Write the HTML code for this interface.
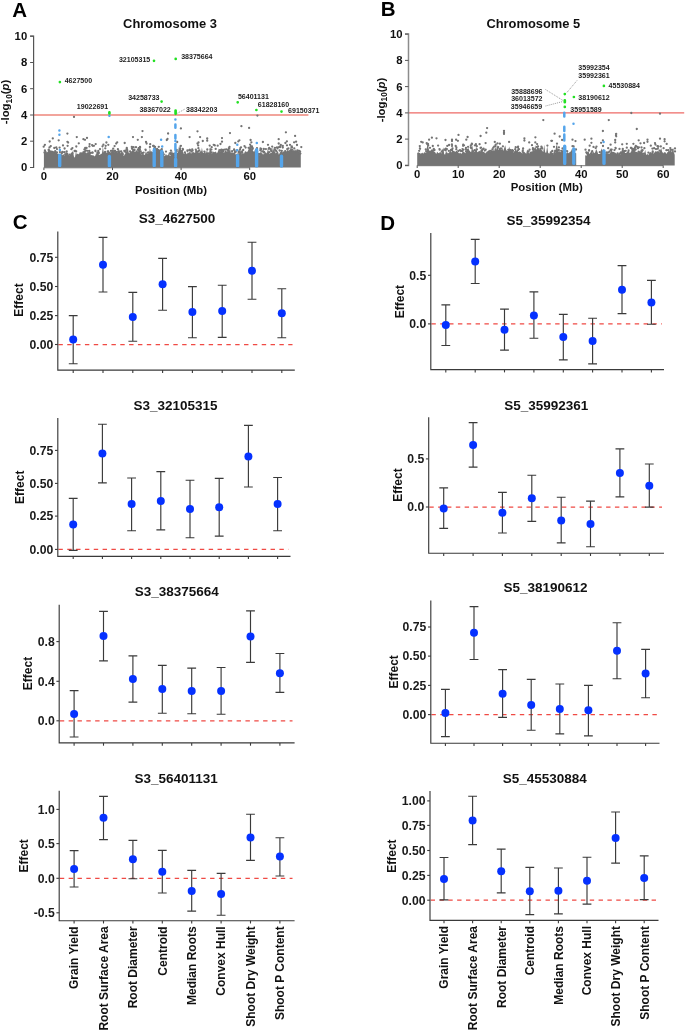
<!DOCTYPE html>
<html><head><meta charset="utf-8"><style>
html,body{margin:0;padding:0;background:#fff;}
svg{display:block;} text{-webkit-font-smoothing:antialiased;} svg{will-change:transform;}
</style></head><body>
<svg width="685" height="1031" viewBox="0 0 685 1031">
<rect width="685" height="1031" fill="#fff"/>
<text x="12.2" y="16.8" font-size="20.5" font-family="Liberation Sans, sans-serif" font-weight="bold" fill="#000">A</text>
<text x="380.8" y="15.5" font-size="20.5" font-family="Liberation Sans, sans-serif" font-weight="bold" fill="#000">B</text>
<text x="12.8" y="228.8" font-size="20.5" font-family="Liberation Sans, sans-serif" font-weight="bold" fill="#000">C</text>
<text x="380.3" y="229.6" font-size="20.5" font-family="Liberation Sans, sans-serif" font-weight="bold" fill="#000">D</text>
<line x1="33.6" y1="115" x2="308.4" y2="115" stroke="#f2a49c" stroke-width="2.0"/>
<path d="M43.9 167.5L43.9 152.2L44.9 152.5L45.9 150.7L46.9 152.6L47.9 151.5L48.9 150L49.9 149.7L50.9 150.7L51.9 150.5L52.9 150.9L53.9 151.2L54.9 151.7L55.9 154L56.9 153.9L57.9 153.3L58.9 154.3L59.9 156.8L60.9 157.5L61.9 155.6L62.9 154.7L63.9 154.3L64.9 155.8L65.9 150.7L66.9 152.9L67.9 152.5L68.9 155.2L69.9 155.3L70.9 154.2L71.9 154.2L72.9 150.3L73.9 156.6L74.9 157.8L75.9 151.5L76.9 155.1L77.9 155.2L78.9 154.2L79.9 151.9L80.9 152.5L81.9 152.2L82.9 153.1L83.9 150.7L84.9 151.9L85.9 152.7L86.9 153.4L87.9 154.3L88.9 151L89.9 154.1L90.9 155.2L91.9 154.9L92.9 156.6L93.9 155.7L94.9 156.6L95.9 154L96.9 154.3L97.9 153.3L98.9 154.7L99.9 155.1L100.9 153.8L101.9 153.8L102.9 146.7L103.9 153.5L104.9 153.5L105.9 152.2L106.9 153L107.9 151.4L108.9 151.5L109.9 152L110.9 152.5L111.9 151L112.9 150.3L113.9 152.4L114.9 152.4L115.9 150.3L116.9 152.4L117.9 152.3L118.9 149.1L119.9 151.6L120.9 153.6L121.9 149.8L122.9 154.5L123.9 155.9L124.9 154.1L125.9 152.5L126.9 149.4L127.9 147.7L128.9 154.2L129.9 152.2L130.9 151.8L131.9 150.9L132.9 150.7L133.9 150.6L134.9 152L135.9 151.1L136.9 149.9L137.9 151.5L138.9 150.5L139.9 150.4L140.9 153.7L141.9 154.6L142.9 153.6L143.9 154.6L144.9 155.1L145.9 151.1L146.9 153.6L147.9 153.2L148.9 154.1L149.9 147.7L150.9 153.1L151.9 152.3L152.9 151.8L153.9 150.6L154.9 147.6L155.9 148.2L156.9 151.4L157.9 153.1L158.9 151.2L159.9 151.3L160.9 153.5L161.9 153.9L162.9 153.4L163.9 155L164.9 156.2L165.9 153.8L166.9 155.6L167.9 155L168.9 153.8L169.9 155.9L170.9 155.3L171.9 149.5L172.9 154.4L173.9 154.5L174.9 155.1L175.9 155.3L176.9 153L177.9 153L178.9 146.5L179.9 148.7L180.9 149.1L181.9 151L182.9 151.4L183.9 154.1L184.9 153.1L185.9 153.1L186.9 154.2L187.9 152.1L188.9 153.2L189.9 150.5L190.9 153.6L191.9 153.1L192.9 151.4L193.9 152.4L194.9 152.8L195.9 151.5L196.9 153.4L197.9 151.8L198.9 153L199.9 152.3L200.9 154.1L201.9 147.6L202.9 153.1L203.9 153.1L204.9 150.8L205.9 153.4L206.9 150.3L207.9 153.1L208.9 154.4L209.9 147.6L210.9 150.1L211.9 154L212.9 151.2L213.9 152.2L214.9 152L215.9 151.5L216.9 153.5L217.9 151.6L218.9 148.4L219.9 151.2L220.9 152L221.9 151.5L222.9 152L223.9 153L224.9 151.6L225.9 149.7L226.9 152.1L227.9 150.2L228.9 152.3L229.9 147.2L230.9 153.1L231.9 151.9L232.9 152.8L233.9 152.8L234.9 152.8L235.9 154.8L236.9 153.9L237.9 155.4L238.9 153.6L239.9 153.1L240.9 148.5L241.9 154.4L242.9 152L243.9 154L244.9 151.6L245.9 151.2L246.9 152.3L247.9 151L248.9 148.3L249.9 145.6L250.9 147.8L251.9 149.3L252.9 150.5L253.9 152.6L254.9 149.9L255.9 151.7L256.9 151.8L257.9 152.5L258.9 155L259.9 155.5L260.9 149.5L261.9 154.6L262.9 154.6L263.9 153.9L264.9 152.5L265.9 152.2L266.9 153.6L267.9 148.2L268.9 152.9L269.9 153.7L270.9 152.3L271.9 152.9L272.9 147.1L273.9 150.6L274.9 151.5L275.9 153.6L276.9 151.8L277.9 151.2L278.9 154.8L279.9 152.6L280.9 151.3L281.9 151L282.9 152.4L283.9 150.8L284.9 152L285.9 152.1L286.9 150.4L287.9 150L288.9 152.3L289.9 151.3L290.9 145L291.9 150.9L292.9 150.7L293.9 149.7L294.9 152.1L295.9 149L296.9 150.9L297.9 150.6L298.9 151.4L299.9 154L300.8 153.4L300.8 167.5Z" fill="#747474"/>
<path d="M43.7 146.7h0M45.2 151.7h0M44.5 152.5h0M44.9 150.3h0M48.6 149.9h0M48.8 150.0h0M49.5 147.4h0M50.8 146.1h0M54.3 148.0h0M55.2 151.2h0M55.6 153.1h0M56.0 154.0h0M56.3 147.4h0M57.0 149.1h0M56.9 152.4h0M59.9 155.6h0M59.9 152.1h0M59.6 147.6h0M61.3 155.9h0M61.9 153.1h0M61.7 153.6h0M62.3 152.0h0M64.3 152.2h0M64.6 148.5h0M65.2 154.4h0M66.7 151.5h0M69.6 154.6h0M71.4 149.2h0M72.4 153.2h0M71.7 154.0h0M72.4 148.1h0M74.6 151.0h0M76.2 151.3h0M75.6 150.9h0M76.3 146.5h0M77.8 154.9h0M83.3 152.5h0M84.4 149.4h0M84.7 151.8h0M85.2 147.9h0M85.8 150.5h0M87.3 150.8h0M86.6 147.9h0M87.6 153.5h0M88.4 154.2h0M89.3 151.0h0M89.4 146.4h0M89.9 153.8h0M89.5 152.4h0M90.8 153.1h0M92.4 152.3h0M92.7 145.8h0M92.9 156.3h0M92.7 152.8h0M93.9 145.8h0M95.4 150.6h0M95.5 151.2h0M97.3 154.1h0M97.4 152.9h0M98.3 151.0h0M98.7 153.4h0M98.8 152.6h0M100.0 149.1h0M102.5 146.3h0M103.9 153.4h0M105.3 148.3h0M105.1 151.8h0M105.3 153.1h0M105.7 145.8h0M107.8 151.4h0M108.2 151.4h0M111.0 150.9h0M112.4 150.7h0M113.2 148.6h0M113.9 152.3h0M115.0 150.8h0M114.6 146.1h0M114.5 150.9h0M116.6 152.1h0M118.4 151.4h0M117.9 149.2h0M121.0 151.4h0M122.8 154.3h0M122.6 153.4h0M124.3 150.9h0M125.4 151.9h0M125.8 150.5h0M126.8 147.9h0M126.7 148.8h0M128.6 153.9h0M130.1 151.4h0M131.8 146.9h0M132.0 148.7h0M133.2 150.5h0M134.3 149.7h0M133.6 147.2h0M134.6 150.1h0M136.0 147.2h0M138.3 149.3h0M137.9 149.8h0M139.2 150.2h0M138.7 148.2h0M139.4 149.4h0M140.1 147.2h0M139.9 149.2h0M139.6 148.0h0M140.0 147.0h0M140.7 151.4h0M141.6 153.1h0M142.5 153.3h0M143.6 152.6h0M145.5 149.6h0M145.7 150.1h0M148.4 152.3h0M148.0 152.6h0M149.4 153.4h0M150.2 144.2h0M149.9 147.0h0M151.1 152.5h0M153.1 145.9h0M153.7 145.9h0M154.0 148.3h0M155.0 147.0h0M156.4 150.0h0M157.1 149.0h0M156.6 150.7h0M157.9 152.6h0M158.0 149.9h0M157.5 152.6h0M158.5 151.2h0M158.8 146.8h0M160.1 150.4h0M159.7 151.3h0M160.9 153.4h0M161.8 149.2h0M161.8 149.1h0M162.9 152.7h0M163.8 154.3h0M166.0 151.6h0M169.7 153.5h0M170.8 153.2h0M170.5 154.2h0M170.9 150.7h0M173.4 154.0h0M172.8 153.9h0M175.3 154.3h0M175.4 153.4h0M176.7 149.8h0M176.7 151.2h0M176.5 152.0h0M180.1 148.5h0M180.5 146.2h0M180.9 145.8h0M182.1 150.8h0M182.8 149.0h0M183.0 149.6h0M184.9 152.3h0M187.4 150.3h0M187.5 150.9h0M189.5 149.9h0M189.9 149.9h0M191.4 151.5h0M192.2 149.3h0M192.6 150.5h0M196.2 151.2h0M195.8 149.6h0M196.8 152.8h0M198.2 145.4h0M198.4 148.2h0M198.2 151.4h0M199.3 150.4h0M201.2 153.4h0M200.7 152.5h0M201.3 152.4h0M204.4 151.7h0M207.3 149.5h0M208.6 153.4h0M209.7 145.6h0M210.6 149.3h0M211.4 149.6h0M211.5 152.4h0M211.7 147.2h0M213.7 144.8h0M214.8 145.4h0M215.7 148.9h0M217.7 145.7h0M219.9 150.1h0M220.9 151.0h0M221.5 149.6h0M222.2 151.0h0M223.2 149.9h0M223.4 151.6h0M224.9 149.6h0M226.3 149.3h0M227.9 150.0h0M228.5 150.9h0M228.9 148.2h0M229.2 148.4h0M229.5 146.9h0M232.1 151.2h0M234.1 149.3h0M234.2 150.0h0M234.9 152.2h0M235.5 152.2h0M236.5 150.7h0M237.2 150.1h0M237.6 154.6h0M239.1 151.5h0M238.7 152.5h0M240.3 152.9h0M240.0 149.3h0M240.5 147.8h0M241.0 147.3h0M242.1 152.6h0M242.0 151.7h0M243.2 150.0h0M244.5 146.1h0M245.6 147.6h0M248.6 147.8h0M250.1 144.6h0M250.9 146.2h0M251.2 147.7h0M252.0 146.4h0M252.5 149.3h0M252.8 148.2h0M253.4 152.6h0M257.0 148.2h0M257.2 151.6h0M258.6 154.0h0M260.1 153.9h0M260.3 155.4h0M260.3 150.2h0M260.5 148.5h0M261.2 149.0h0M261.1 149.2h0M262.2 151.3h0M261.7 154.5h0M263.3 151.4h0M264.1 151.8h0M263.8 149.0h0M264.0 152.6h0M265.9 149.1h0M269.2 147.8h0M268.8 148.8h0M269.1 152.2h0M271.3 151.2h0M270.8 149.1h0M270.8 149.9h0M272.2 146.6h0M274.9 147.8h0M275.0 150.1h0M275.0 149.7h0M276.3 151.2h0M276.0 150.6h0M277.0 147.3h0M277.5 148.4h0M279.2 147.0h0M279.6 150.5h0M280.2 147.0h0M280.4 146.3h0M281.8 150.8h0M282.8 147.5h0M282.8 145.8h0M285.2 151.2h0M287.2 149.1h0M287.0 145.3h0M288.4 148.5h0M288.6 151.7h0M290.2 150.8h0M291.8 146.5h0M291.4 150.2h0M292.0 147.4h0M292.2 149.9h0M294.3 148.4h0M295.0 151.3h0M297.0 145.0h0M297.6 150.4h0M299.2 151.0h0M299.8 151.6h0M299.5 153.9h0M299.9 153.1h0M300.4 153.6h0M300.1 151.5h0M301.3 147.1h0M74.0 116.9h0M257.4 115.6h0M67.4 133.6h0M52.8 138.4h0M49.7 141.5h0M58.7 140.3h0M76.8 137.1h0M83.4 139.2h0M85.0 139.8h0M87.0 137.9h0M78.8 143.3h0M67.4 141.8h0M68.1 142.5h0M106.4 142.5h0M44.9 144.8h0M63.0 145.4h0M67.6 145.8h0M89.6 144.1h0M92.1 145.1h0M95.7 144.1h0M103.4 144.6h0M108.3 144.8h0M142.5 131.1h0M133.0 137.1h0M141.9 137.1h0M137.8 139.8h0M168.1 133.5h0M167.5 139.0h0M166.8 140.0h0M146.0 142.0h0M146.6 143.5h0M124.7 143.0h0M117.2 142.3h0M116.2 143.5h0M180.9 128.4h0M197.5 131.3h0M241.4 126.2h0M230.0 133.1h0M189.6 137.1h0M200.1 137.1h0M202.8 141.0h0M207.2 138.4h0M207.2 140.7h0M198.5 142.5h0M197.5 143.5h0M222.0 138.1h0M222.0 141.7h0M220.5 144.0h0M239.4 140.3h0M238.3 141.3h0M235.3 143.0h0M177.2 142.0h0M249.1 127.9h0M285.9 132.3h0M295.1 135.9h0M278.7 139.2h0M250.6 140.0h0M251.4 142.3h0M262.9 142.0h0M286.9 141.3h0M285.4 143.0h0M294.1 142.3h0M296.1 141.7h0M290.0 144.8h0M278.7 143.5h0M280.8 144.8h0M268.0 144.8h0" stroke="#747474" stroke-width="2.3" stroke-linecap="round" fill="none"/>
<path d="M59.7 165.8V155.2M109.4 165.9V156.4M154.2 165.8V150.2M161.8 165.9V151.5M175.6 165.9V159.3M237.6 165.9V155.6M256.6 165.9V149.8M281.5 166.0V156.3" stroke="#55a5eb" stroke-width="3.4" stroke-linecap="round" fill="none"/>
<path d="M59.4 130.5V130.5M59.4 134.7V134.7M59.9 149.9V149.9M108.7 136.9V136.9M109.4 115.7V115.7M154.2 148.9V148.9M161.1 139.7V139.7M162.2 146.4V146.4M175.4 119.5V119.5M175.4 124.6V127.7M175.4 134.9V138.4M175.4 141.0V141.0M175.4 144.0V150.0M175.6 152.0V157.0M237.3 144.8V144.8M237.1 150.2V150.2M256.8 143.0V143.0" stroke="#55a5eb" stroke-width="2.5" stroke-linecap="round" fill="none"/>
<path d="M59.9 82.1V82.1M109.4 112.4V113.4M154.0 60.8V60.8M175.7 58.9V58.9M161.6 101.6V101.6M175.6 110.5V113.8M237.7 102.3V102.3M256.4 110.0V110.0M281.5 111.6V111.6" stroke="#22e022" stroke-width="2.7" stroke-linecap="round" fill="none"/>
<path d="M30.1 36.2H33.6V167.5H30.1" fill="none" stroke="#555" stroke-width="1.2"/>
<line x1="30.1" y1="167.5" x2="33.6" y2="167.5" stroke="#555" stroke-width="1.0"/>
<text x="27.2" y="171.4" text-anchor="end" font-size="11.3" font-family="Liberation Sans, sans-serif" font-weight="bold" fill="#111">0</text>
<line x1="30.1" y1="141.2" x2="33.6" y2="141.2" stroke="#555" stroke-width="1.0"/>
<text x="27.2" y="145.1" text-anchor="end" font-size="11.3" font-family="Liberation Sans, sans-serif" font-weight="bold" fill="#111">2</text>
<line x1="30.1" y1="115" x2="33.6" y2="115" stroke="#555" stroke-width="1.0"/>
<text x="27.2" y="118.9" text-anchor="end" font-size="11.3" font-family="Liberation Sans, sans-serif" font-weight="bold" fill="#111">4</text>
<line x1="30.1" y1="88.7" x2="33.6" y2="88.7" stroke="#555" stroke-width="1.0"/>
<text x="27.2" y="92.6" text-anchor="end" font-size="11.3" font-family="Liberation Sans, sans-serif" font-weight="bold" fill="#111">6</text>
<line x1="30.1" y1="62.5" x2="33.6" y2="62.5" stroke="#555" stroke-width="1.0"/>
<text x="27.2" y="66.4" text-anchor="end" font-size="11.3" font-family="Liberation Sans, sans-serif" font-weight="bold" fill="#111">8</text>
<line x1="30.1" y1="36.2" x2="33.6" y2="36.2" stroke="#555" stroke-width="1.0"/>
<text x="27.2" y="40.1" text-anchor="end" font-size="11.3" font-family="Liberation Sans, sans-serif" font-weight="bold" fill="#111">10</text>
<line x1="43.9" y1="167.5" x2="43.9" y2="170.1" stroke="#555" stroke-width="1"/>
<text x="43.9" y="179.9" text-anchor="middle" font-size="11.3" font-family="Liberation Sans, sans-serif" font-weight="bold" fill="#111">0</text>
<line x1="112.5" y1="167.5" x2="112.5" y2="170.1" stroke="#555" stroke-width="1"/>
<text x="112.5" y="179.9" text-anchor="middle" font-size="11.3" font-family="Liberation Sans, sans-serif" font-weight="bold" fill="#111">20</text>
<line x1="181.1" y1="167.5" x2="181.1" y2="170.1" stroke="#555" stroke-width="1"/>
<text x="181.1" y="179.9" text-anchor="middle" font-size="11.3" font-family="Liberation Sans, sans-serif" font-weight="bold" fill="#111">40</text>
<line x1="249.7" y1="167.5" x2="249.7" y2="170.1" stroke="#555" stroke-width="1"/>
<text x="249.7" y="179.9" text-anchor="middle" font-size="11.3" font-family="Liberation Sans, sans-serif" font-weight="bold" fill="#111">60</text>
<line x1="43.9" y1="167.8" x2="249.7" y2="167.8" stroke="#555" stroke-width="0.8"/>
<text x="170" y="28" text-anchor="middle" font-size="12.9" font-family="Liberation Sans, sans-serif" font-weight="bold" fill="#111">Chromosome 3</text>
<text x="171" y="193.9" text-anchor="middle" font-size="11.4" font-family="Liberation Sans, sans-serif" font-weight="bold" fill="#111">Position (Mb)</text>
<text x="9.3" y="102" transform="rotate(-90 9.3 102)" text-anchor="middle" font-size="11.4" font-family="Liberation Sans, sans-serif" font-weight="bold" fill="#111">-log<tspan font-size="8.3" dy="2.3">10</tspan><tspan dy="-2.3">(</tspan><tspan font-style="italic">p</tspan>)</text>
<text x="64.7" y="82.5" font-size="7.05" font-family="Liberation Sans, sans-serif" font-weight="bold" fill="#222">4627500</text>
<text x="118.9" y="61.6" font-size="7.05" font-family="Liberation Sans, sans-serif" font-weight="bold" fill="#222">32105315</text>
<text x="181.2" y="59.4" font-size="7.05" font-family="Liberation Sans, sans-serif" font-weight="bold" fill="#222">38375664</text>
<text x="128.2" y="100.1" font-size="7.05" font-family="Liberation Sans, sans-serif" font-weight="bold" fill="#222">34258733</text>
<text x="76.8" y="109.4" font-size="7.05" font-family="Liberation Sans, sans-serif" font-weight="bold" fill="#222">19022691</text>
<text x="139.4" y="111.5" font-size="7.05" font-family="Liberation Sans, sans-serif" font-weight="bold" fill="#222">38367022</text>
<text x="186" y="111.7" font-size="7.05" font-family="Liberation Sans, sans-serif" font-weight="bold" fill="#222">38342203</text>
<text x="237.9" y="98.5" font-size="7.05" font-family="Liberation Sans, sans-serif" font-weight="bold" fill="#222">56401131</text>
<text x="257.8" y="107.1" font-size="7.05" font-family="Liberation Sans, sans-serif" font-weight="bold" fill="#222">61828160</text>
<text x="288.1" y="112.5" font-size="7.05" font-family="Liberation Sans, sans-serif" font-weight="bold" fill="#222">69150371</text>
<line x1="177.5" y1="113.2" x2="185" y2="109" stroke="#555" stroke-width="0.6" stroke-dasharray="1 1"/>
<line x1="408.5" y1="112.9" x2="684.2" y2="112.9" stroke="#ee6a66" stroke-width="1.3"/>
<path d="M417.2 165.4L417.2 153L418.2 152.3L419.2 152.7L420.2 153.3L421.2 154.8L422.2 152.5L423.2 153.8L424.2 152.3L425.2 152.4L426.2 152.8L427.2 144.9L428.2 146.8L429.2 150.4L430.2 151L431.2 149.5L432.2 149.6L433.2 151L434.2 151.5L435.2 152.3L436.2 154L437.2 151.7L438.2 152.9L439.2 153.3L440.2 151.2L441.2 153.4L442.2 151.9L443.2 147.2L444.2 154.2L445.2 154.5L446.2 150.6L447.2 154.3L448.2 153.3L449.2 152.6L450.2 149.1L451.2 152.4L452.2 150.9L453.2 151.1L454.2 151L455.2 151.9L456.2 150.7L457.2 151.2L458.2 152.4L459.2 153.5L460.2 152.6L461.2 154.1L462.2 152.5L463.2 151.4L464.2 152.1L465.2 153.2L466.2 151.9L467.2 150.2L468.2 147.8L469.2 150.3L470.2 151.4L471.2 152.2L472.2 144.8L473.2 152.6L474.2 152.1L475.2 151.8L476.2 146L477.2 152.3L478.2 151.8L479.2 150.8L480.2 151.4L481.2 148.3L482.2 151.1L483.2 151.8L484.2 152L485.2 153.5L486.2 151.9L487.2 153.2L488.2 150.7L489.2 149.7L490.2 151.7L491.2 149.3L492.2 151L493.2 150L494.2 151L495.2 146.7L496.2 149.7L497.2 145L498.2 149.7L499.2 149.9L500.2 149.7L501.2 150.1L502.2 147.2L503.2 150.9L504.2 148.3L505.2 145.3L506.2 150L507.2 150.9L508.2 150.8L509.2 146.4L510.2 150.6L511.2 151.8L512.2 151.8L513.2 152.3L514.2 152.5L515.2 150L516.2 150L517.2 151.7L518.2 151.9L519.2 151.5L520.2 151.7L521.2 152.4L522.2 153.5L523.2 151.8L524.2 151.8L525.2 152.7L526.2 153.8L527.2 149.3L528.2 152.2L529.2 153.4L530.2 151.8L531.2 151.4L532.2 151.4L533.2 149.7L534.2 150.4L535.2 144.9L536.2 149.7L537.2 147.7L538.2 147.4L539.2 148.7L540.2 150.1L541.2 150.1L542.2 150.2L543.2 152.3L544.2 144.7L545.2 152.4L546.2 152.7L547.2 146.2L548.2 153.2L549.2 153.3L550.2 154.6L551.2 153.7L552.2 152.9L553.2 154.7L554.2 149.2L555.2 152.8L556.2 145.6L557.2 145.2L558.2 152.4L559.2 150.7L560.2 152.2L561.2 151.6L562.2 150.8L563.2 147.4L564.2 152.2L565.2 153.5L566.2 153.4L567.2 151.9L568.2 153.2L569.2 152.6L570.2 152.1L571.2 150.8L572.2 147.9L573.2 152.2L574.2 153.9L575.2 153L576.2 153.2L576.2 165.4ZM585.2 165.4L585.2 155.1L586.2 155.9L587.2 154.1L588.2 150.7L589.2 153.5L590.2 154.3L591.2 153.8L592.2 153.4L593.2 151.6L594.2 153.2L595.2 152.3L596.2 148.9L597.2 151.2L598.2 154.1L599.2 154.1L600.2 154.1L601.2 148.3L602.2 150.8L603.2 148.8L604.2 151.3L605.2 154L606.2 153.3L607.2 152.5L608.2 154.1L609.2 153.9L610.2 152.8L611.2 150.4L612.2 151.7L613.2 151.7L614.2 152.2L615.2 152.5L616.2 153.5L617.2 154.4L618.2 154.3L619.2 152L620.2 154.8L621.2 152.8L622.2 148.3L623.2 149.4L624.2 151.2L625.2 153.1L626.2 153L627.2 151.8L628.2 153.5L629.2 152.8L630.2 153L631.2 150.9L632.2 152L633.2 151.1L634.2 150.7L635.2 151.4L636.2 151.8L637.2 152.2L638.2 151.9L639.2 153.1L640.2 152L641.2 148.2L642.2 151.4L643.2 154.4L644.2 154.2L645.2 149.8L646.2 155.8L647.2 153.5L648.2 155.3L649.2 153.2L650.2 151.8L651.2 153.7L652.2 152L653.2 153.5L654.2 153.1L655.2 151.3L656.2 151.6L657.2 151.6L658.2 150.4L659.2 152.4L660.2 150.8L661.2 147.9L662.2 152.1L663.2 153.1L664.2 153.8L665.2 152.3L666.2 153.9L667.2 152.6L668.2 151.4L669.2 150.1L670.2 153.2L671.2 152.6L672.2 151.2L673.2 147.9L674.2 154.7L674.7 152.2L674.7 165.4Z" fill="#747474"/>
<path d="M419.2 150.8h0M420.1 148.8h0M419.8 146.1h0M419.9 148.3h0M421.5 154.3h0M425.8 149.4h0M426.2 151.3h0M427.4 143.6h0M427.3 144.2h0M426.7 143.2h0M428.0 144.0h0M428.2 145.5h0M430.0 147.8h0M432.8 146.0h0M432.8 150.6h0M434.5 150.0h0M433.8 148.9h0M438.1 145.6h0M439.5 149.1h0M439.7 149.7h0M442.0 151.8h0M442.4 150.7h0M444.5 149.7h0M445.6 150.3h0M445.8 148.6h0M446.9 149.1h0M447.3 145.9h0M446.8 153.7h0M449.1 145.0h0M448.8 150.8h0M451.0 150.0h0M452.0 145.9h0M451.9 144.4h0M452.5 148.5h0M452.2 150.3h0M456.4 147.5h0M456.3 149.3h0M455.7 146.0h0M458.3 151.0h0M460.0 150.2h0M460.8 150.9h0M462.3 151.0h0M462.5 149.1h0M463.1 145.8h0M463.3 149.7h0M463.2 144.6h0M464.0 145.3h0M466.0 147.9h0M465.8 149.3h0M466.1 151.5h0M467.4 150.0h0M468.1 146.8h0M470.9 147.4h0M471.3 148.2h0M470.8 145.4h0M470.8 147.6h0M472.0 144.0h0M471.8 143.6h0M473.3 151.3h0M472.7 152.5h0M474.6 150.1h0M475.6 150.8h0M474.9 145.3h0M475.9 144.2h0M476.9 149.4h0M476.8 146.2h0M479.6 144.2h0M480.6 147.9h0M481.0 147.6h0M481.9 150.5h0M483.6 148.7h0M482.9 149.2h0M484.8 150.6h0M485.7 149.7h0M487.5 152.4h0M490.2 150.8h0M492.5 149.2h0M492.6 149.6h0M493.3 147.6h0M494.2 146.6h0M495.7 144.6h0M495.5 146.1h0M497.5 143.3h0M497.9 147.8h0M498.2 147.2h0M499.9 143.7h0M499.7 149.2h0M501.0 148.5h0M502.9 146.3h0M508.3 149.9h0M509.9 149.8h0M511.1 150.3h0M511.7 151.1h0M511.2 151.7h0M512.4 150.1h0M511.9 151.7h0M513.0 150.8h0M514.7 152.4h0M515.3 149.2h0M515.2 149.2h0M515.7 147.2h0M517.0 151.6h0M518.1 150.1h0M518.1 146.6h0M517.9 147.5h0M518.9 149.2h0M522.7 151.8h0M522.8 150.4h0M523.1 148.4h0M528.1 151.3h0M528.6 151.7h0M529.6 149.7h0M532.0 145.2h0M532.9 148.2h0M532.9 149.5h0M534.1 149.3h0M537.0 147.0h0M537.1 144.1h0M538.0 146.4h0M537.7 146.7h0M540.4 149.0h0M541.4 146.7h0M541.8 147.3h0M542.1 148.6h0M547.4 145.6h0M550.3 154.1h0M551.1 153.7h0M550.8 152.4h0M552.3 151.0h0M552.7 153.9h0M554.0 146.8h0M555.3 150.9h0M557.0 143.7h0M557.8 152.3h0M558.0 150.3h0M558.9 150.1h0M558.9 147.4h0M561.2 150.8h0M562.5 148.4h0M564.9 148.5h0M565.2 150.7h0M565.1 151.1h0M567.0 151.1h0M567.2 151.3h0M572.5 146.2h0M573.6 146.4h0M576.0 149.5h0M576.0 149.5h0M585.5 149.7h0M586.3 152.3h0M587.4 152.8h0M586.9 153.4h0M589.1 150.2h0M589.1 150.6h0M589.7 145.7h0M591.0 153.7h0M591.7 152.3h0M592.2 151.2h0M593.5 146.9h0M595.7 148.1h0M596.5 146.6h0M599.8 152.2h0M603.0 146.0h0M604.8 153.1h0M606.9 152.3h0M608.2 148.2h0M608.5 152.5h0M609.4 151.6h0M610.6 144.7h0M610.7 149.9h0M610.8 149.9h0M611.1 150.2h0M611.7 149.6h0M614.5 150.1h0M615.5 147.8h0M615.7 148.3h0M617.6 153.5h0M617.3 154.3h0M619.5 148.9h0M620.0 153.6h0M621.0 152.5h0M622.2 144.3h0M622.8 149.0h0M624.2 151.2h0M625.7 150.8h0M626.8 147.7h0M628.4 152.0h0M628.0 153.0h0M628.6 150.3h0M631.1 148.0h0M630.9 147.9h0M632.3 150.0h0M632.5 151.6h0M632.2 148.6h0M632.9 149.7h0M634.3 150.6h0M634.3 149.0h0M635.7 149.5h0M635.0 147.5h0M635.8 145.9h0M637.3 146.9h0M638.6 151.7h0M638.0 148.3h0M638.9 147.3h0M639.3 152.2h0M641.5 147.4h0M642.1 150.9h0M641.7 151.1h0M642.6 150.2h0M643.1 153.8h0M644.3 153.6h0M644.4 148.2h0M646.0 155.8h0M648.4 152.6h0M650.8 153.3h0M652.7 151.4h0M652.4 148.6h0M652.8 152.0h0M654.1 148.2h0M655.0 143.1h0M656.0 149.1h0M657.4 146.1h0M658.3 146.5h0M657.8 148.7h0M659.7 150.7h0M660.8 146.4h0M663.6 148.2h0M664.6 153.5h0M666.4 150.2h0M666.7 143.9h0M668.2 150.1h0M670.3 148.1h0M670.7 149.7h0M670.2 153.0h0M670.4 151.7h0M670.7 152.5h0M672.4 149.8h0M675.0 151.4h0M675.0 148.4h0M631.3 113.0h0M660.0 113.7h0M458.5 134.9h0M480.6 136.0h0M467.6 137.0h0M431.9 137.7h0M436.5 138.3h0M429.1 139.7h0M445.5 140.0h0M452.0 139.7h0M452.0 141.1h0M456.1 139.7h0M457.9 140.8h0M466.3 139.7h0M421.2 141.8h0M422.7 142.4h0M543.3 120.1h0M487.1 128.1h0M486.3 132.7h0M504.0 130.8h0M504.0 132.4h0M504.0 133.9h0M535.4 137.3h0M524.4 138.3h0M524.4 140.5h0M494.8 141.9h0M509.1 141.9h0M529.2 142.4h0M535.3 142.4h0M485.6 143.1h0M551.3 140.8h0M608.8 120.1h0M554.6 133.7h0M559.7 136.5h0M602.9 131.0h0M616.2 133.9h0M616.2 136.3h0M552.0 140.8h0M562.1 140.0h0M572.5 139.7h0M575.5 141.1h0M584.7 139.7h0M591.4 138.7h0M591.4 142.8h0M602.9 140.3h0M601.1 142.8h0M615.2 140.0h0M615.2 142.4h0M636.8 129.0h0M616.0 134.1h0M616.0 135.7h0M638.7 140.3h0M647.5 139.7h0M647.5 141.8h0M660.0 138.7h0M664.6 139.2h0M664.6 141.3h0M626.8 143.8h0M633.4 143.8h0M640.5 143.3h0M644.1 143.0h0M655.4 144.6h0M650.8 145.7h0" stroke="#747474" stroke-width="2.3" stroke-linecap="round" fill="none"/>
<path d="M564.7 163.6V146.2M573.8 163.4V149.0M604.0 163.4V151.0" stroke="#55a5eb" stroke-width="3.4" stroke-linecap="round" fill="none"/>
<path d="M564.3 112.8V116.4M564.3 126.8V131.0M564.3 134.5V140.6M573.5 123.7V123.7M603.6 142.1V142.1" stroke="#55a5eb" stroke-width="2.5" stroke-linecap="round" fill="none"/>
<path d="M564.8 94.1V94.1M564.8 100.3V102.2M564.8 106.9V106.9M573.9 97.0V97.0M603.9 85.9V85.9" stroke="#22e022" stroke-width="2.7" stroke-linecap="round" fill="none"/>
<path d="M405 34.1H408.5V165.4H405" fill="none" stroke="#8c8c8c" stroke-width="1.5"/>
<line x1="405" y1="165.4" x2="408.5" y2="165.4" stroke="#555" stroke-width="1.0"/>
<text x="402.5" y="169.3" text-anchor="end" font-size="11.3" font-family="Liberation Sans, sans-serif" font-weight="bold" fill="#111">0</text>
<line x1="405" y1="139.1" x2="408.5" y2="139.1" stroke="#555" stroke-width="1.0"/>
<text x="402.5" y="143" text-anchor="end" font-size="11.3" font-family="Liberation Sans, sans-serif" font-weight="bold" fill="#111">2</text>
<line x1="405" y1="112.9" x2="408.5" y2="112.9" stroke="#555" stroke-width="1.0"/>
<text x="402.5" y="116.8" text-anchor="end" font-size="11.3" font-family="Liberation Sans, sans-serif" font-weight="bold" fill="#111">4</text>
<line x1="405" y1="86.6" x2="408.5" y2="86.6" stroke="#555" stroke-width="1.0"/>
<text x="402.5" y="90.5" text-anchor="end" font-size="11.3" font-family="Liberation Sans, sans-serif" font-weight="bold" fill="#111">6</text>
<line x1="405" y1="60.4" x2="408.5" y2="60.4" stroke="#555" stroke-width="1.0"/>
<text x="402.5" y="64.3" text-anchor="end" font-size="11.3" font-family="Liberation Sans, sans-serif" font-weight="bold" fill="#111">8</text>
<line x1="405" y1="34.1" x2="408.5" y2="34.1" stroke="#555" stroke-width="1.0"/>
<text x="402.5" y="38" text-anchor="end" font-size="11.3" font-family="Liberation Sans, sans-serif" font-weight="bold" fill="#111">10</text>
<line x1="417.2" y1="165.4" x2="417.2" y2="168" stroke="#555" stroke-width="1"/>
<text x="417.2" y="177.9" text-anchor="middle" font-size="11.3" font-family="Liberation Sans, sans-serif" font-weight="bold" fill="#111">0</text>
<line x1="458.2" y1="165.4" x2="458.2" y2="168" stroke="#555" stroke-width="1"/>
<text x="458.2" y="177.9" text-anchor="middle" font-size="11.3" font-family="Liberation Sans, sans-serif" font-weight="bold" fill="#111">10</text>
<line x1="499.2" y1="165.4" x2="499.2" y2="168" stroke="#555" stroke-width="1"/>
<text x="499.2" y="177.9" text-anchor="middle" font-size="11.3" font-family="Liberation Sans, sans-serif" font-weight="bold" fill="#111">20</text>
<line x1="540.2" y1="165.4" x2="540.2" y2="168" stroke="#555" stroke-width="1"/>
<text x="540.2" y="177.9" text-anchor="middle" font-size="11.3" font-family="Liberation Sans, sans-serif" font-weight="bold" fill="#111">30</text>
<line x1="581.2" y1="165.4" x2="581.2" y2="168" stroke="#555" stroke-width="1"/>
<text x="581.2" y="177.9" text-anchor="middle" font-size="11.3" font-family="Liberation Sans, sans-serif" font-weight="bold" fill="#111">40</text>
<line x1="622.2" y1="165.4" x2="622.2" y2="168" stroke="#555" stroke-width="1"/>
<text x="622.2" y="177.9" text-anchor="middle" font-size="11.3" font-family="Liberation Sans, sans-serif" font-weight="bold" fill="#111">50</text>
<line x1="663.2" y1="165.4" x2="663.2" y2="168" stroke="#555" stroke-width="1"/>
<text x="663.2" y="177.9" text-anchor="middle" font-size="11.3" font-family="Liberation Sans, sans-serif" font-weight="bold" fill="#111">60</text>
<line x1="417.2" y1="165.7" x2="663.2" y2="165.7" stroke="#555" stroke-width="0.8"/>
<text x="533.3" y="28.1" text-anchor="middle" font-size="12.9" font-family="Liberation Sans, sans-serif" font-weight="bold" fill="#111">Chromosome 5</text>
<text x="546.8" y="190.8" text-anchor="middle" font-size="11.4" font-family="Liberation Sans, sans-serif" font-weight="bold" fill="#111">Position (Mb)</text>
<text x="384.5" y="100" transform="rotate(-90 384.5 100)" text-anchor="middle" font-size="11.4" font-family="Liberation Sans, sans-serif" font-weight="bold" fill="#111">-log<tspan font-size="8.3" dy="2.3">10</tspan><tspan dy="-2.3">(</tspan><tspan font-style="italic">p</tspan>)</text>
<text x="578.3" y="70.3" font-size="7.05" font-family="Liberation Sans, sans-serif" font-weight="bold" fill="#222">35992354</text>
<text x="578.3" y="78.2" font-size="7.05" font-family="Liberation Sans, sans-serif" font-weight="bold" fill="#222">35992361</text>
<text x="608.6" y="88.2" font-size="7.05" font-family="Liberation Sans, sans-serif" font-weight="bold" fill="#222">45530884</text>
<text x="511.2" y="93.6" font-size="7.05" font-family="Liberation Sans, sans-serif" font-weight="bold" fill="#222">35888696</text>
<text x="511.2" y="101" font-size="7.05" font-family="Liberation Sans, sans-serif" font-weight="bold" fill="#222">36013572</text>
<text x="510.8" y="108.5" font-size="7.05" font-family="Liberation Sans, sans-serif" font-weight="bold" fill="#222">35946659</text>
<text x="578.3" y="99.6" font-size="7.05" font-family="Liberation Sans, sans-serif" font-weight="bold" fill="#222">38190612</text>
<text x="570.3" y="111.5" font-size="7.05" font-family="Liberation Sans, sans-serif" font-weight="bold" fill="#222">35951589</text>
<line x1="545.5" y1="89.5" x2="563" y2="100.5" stroke="#555" stroke-width="0.6" stroke-dasharray="1 1"/>
<line x1="545.5" y1="106" x2="563" y2="101.5" stroke="#555" stroke-width="0.6" stroke-dasharray="1 1"/>
<line x1="577" y1="80.5" x2="566.5" y2="93" stroke="#555" stroke-width="0.6" stroke-dasharray="1 1"/>
<line x1="57.8" y1="344.5" x2="292.5" y2="344.5" stroke="#f04a44" stroke-width="1.25" stroke-dasharray="4.42 4.42" stroke-dashoffset="-0.6"/>
<path d="M57.8 231.5V370.1H294.8" fill="none" stroke="#3a3a3a" stroke-width="1.15"/>
<line x1="55" y1="344.5" x2="57.8" y2="344.5" stroke="#3a3a3a" stroke-width="1.1"/>
<text x="53.3" y="348.8" text-anchor="end" font-size="12.2" font-family="Liberation Sans, sans-serif" font-weight="bold" fill="#1a1a1a">0.00</text>
<line x1="55" y1="315.6" x2="57.8" y2="315.6" stroke="#3a3a3a" stroke-width="1.1"/>
<text x="53.3" y="319.9" text-anchor="end" font-size="12.2" font-family="Liberation Sans, sans-serif" font-weight="bold" fill="#1a1a1a">0.25</text>
<line x1="55" y1="286.5" x2="57.8" y2="286.5" stroke="#3a3a3a" stroke-width="1.1"/>
<text x="53.3" y="290.8" text-anchor="end" font-size="12.2" font-family="Liberation Sans, sans-serif" font-weight="bold" fill="#1a1a1a">0.50</text>
<line x1="55" y1="257.3" x2="57.8" y2="257.3" stroke="#3a3a3a" stroke-width="1.1"/>
<text x="53.3" y="261.6" text-anchor="end" font-size="12.2" font-family="Liberation Sans, sans-serif" font-weight="bold" fill="#1a1a1a">0.75</text>
<line x1="73.2" y1="370.1" x2="73.2" y2="372.9" stroke="#3a3a3a" stroke-width="1.1"/>
<line x1="103" y1="370.1" x2="103" y2="372.9" stroke="#3a3a3a" stroke-width="1.1"/>
<line x1="132.8" y1="370.1" x2="132.8" y2="372.9" stroke="#3a3a3a" stroke-width="1.1"/>
<line x1="162.6" y1="370.1" x2="162.6" y2="372.9" stroke="#3a3a3a" stroke-width="1.1"/>
<line x1="192.4" y1="370.1" x2="192.4" y2="372.9" stroke="#3a3a3a" stroke-width="1.1"/>
<line x1="222.2" y1="370.1" x2="222.2" y2="372.9" stroke="#3a3a3a" stroke-width="1.1"/>
<line x1="252" y1="370.1" x2="252" y2="372.9" stroke="#3a3a3a" stroke-width="1.1"/>
<line x1="281.8" y1="370.1" x2="281.8" y2="372.9" stroke="#3a3a3a" stroke-width="1.1"/>
<path d="M73.2 315.6V363.7M68.8 315.6H77.6M68.8 363.7H77.6" fill="none" stroke="#3a3a3a" stroke-width="1.15"/>
<circle cx="73.2" cy="339.6" r="4" fill="#0531ff"/>
<path d="M103 237.3V292M98.6 237.3H107.4M98.6 292H107.4" fill="none" stroke="#3a3a3a" stroke-width="1.15"/>
<circle cx="103" cy="264.8" r="4" fill="#0531ff"/>
<path d="M132.8 292.4V341.2M128.4 292.4H137.2M128.4 341.2H137.2" fill="none" stroke="#3a3a3a" stroke-width="1.15"/>
<circle cx="132.8" cy="316.9" r="4" fill="#0531ff"/>
<path d="M162.6 258.3V310.2M158.2 258.3H167M158.2 310.2H167" fill="none" stroke="#3a3a3a" stroke-width="1.15"/>
<circle cx="162.6" cy="284.3" r="4" fill="#0531ff"/>
<path d="M192.4 286.6V337.7M188 286.6H196.8M188 337.7H196.8" fill="none" stroke="#3a3a3a" stroke-width="1.15"/>
<circle cx="192.4" cy="312" r="4" fill="#0531ff"/>
<path d="M222.2 285.2V337.4M217.8 285.2H226.6M217.8 337.4H226.6" fill="none" stroke="#3a3a3a" stroke-width="1.15"/>
<circle cx="222.2" cy="311.1" r="4" fill="#0531ff"/>
<path d="M252 242.2V299.2M247.6 242.2H256.4M247.6 299.2H256.4" fill="none" stroke="#3a3a3a" stroke-width="1.15"/>
<circle cx="252" cy="270.8" r="4" fill="#0531ff"/>
<path d="M281.8 288.7V337.7M277.4 288.7H286.2M277.4 337.7H286.2" fill="none" stroke="#3a3a3a" stroke-width="1.15"/>
<circle cx="281.8" cy="313.2" r="4" fill="#0531ff"/>
<text x="177.1" y="223.3" text-anchor="middle" font-size="13.5" font-family="Liberation Sans, sans-serif" font-weight="bold" fill="#111">S3_4627500</text>
<text x="23" y="300" transform="rotate(-90 23 300)" text-anchor="middle" font-size="12" font-family="Liberation Sans, sans-serif" font-weight="bold" fill="#111">Effect</text>
<line x1="57.8" y1="549.4" x2="288.5" y2="549.4" stroke="#f04a44" stroke-width="1.25" stroke-dasharray="4.42 4.42" stroke-dashoffset="-0.6"/>
<path d="M57.8 418V556.3H290.5" fill="none" stroke="#3a3a3a" stroke-width="1.15"/>
<line x1="55" y1="549.4" x2="57.8" y2="549.4" stroke="#3a3a3a" stroke-width="1.1"/>
<text x="53.3" y="553.7" text-anchor="end" font-size="12.2" font-family="Liberation Sans, sans-serif" font-weight="bold" fill="#1a1a1a">0.00</text>
<line x1="55" y1="516.1" x2="57.8" y2="516.1" stroke="#3a3a3a" stroke-width="1.1"/>
<text x="53.3" y="520.4" text-anchor="end" font-size="12.2" font-family="Liberation Sans, sans-serif" font-weight="bold" fill="#1a1a1a">0.25</text>
<line x1="55" y1="483.4" x2="57.8" y2="483.4" stroke="#3a3a3a" stroke-width="1.1"/>
<text x="53.3" y="487.7" text-anchor="end" font-size="12.2" font-family="Liberation Sans, sans-serif" font-weight="bold" fill="#1a1a1a">0.50</text>
<line x1="55" y1="450.4" x2="57.8" y2="450.4" stroke="#3a3a3a" stroke-width="1.1"/>
<text x="53.3" y="454.7" text-anchor="end" font-size="12.2" font-family="Liberation Sans, sans-serif" font-weight="bold" fill="#1a1a1a">0.75</text>
<line x1="73.2" y1="556.3" x2="73.2" y2="559.1" stroke="#3a3a3a" stroke-width="1.1"/>
<line x1="102.4" y1="556.3" x2="102.4" y2="559.1" stroke="#3a3a3a" stroke-width="1.1"/>
<line x1="131.6" y1="556.3" x2="131.6" y2="559.1" stroke="#3a3a3a" stroke-width="1.1"/>
<line x1="160.8" y1="556.3" x2="160.8" y2="559.1" stroke="#3a3a3a" stroke-width="1.1"/>
<line x1="190" y1="556.3" x2="190" y2="559.1" stroke="#3a3a3a" stroke-width="1.1"/>
<line x1="219.2" y1="556.3" x2="219.2" y2="559.1" stroke="#3a3a3a" stroke-width="1.1"/>
<line x1="248.4" y1="556.3" x2="248.4" y2="559.1" stroke="#3a3a3a" stroke-width="1.1"/>
<line x1="277.6" y1="556.3" x2="277.6" y2="559.1" stroke="#3a3a3a" stroke-width="1.1"/>
<path d="M73.2 498.3V550.3M68.8 498.3H77.6M68.8 550.3H77.6" fill="none" stroke="#3a3a3a" stroke-width="1.15"/>
<circle cx="73.2" cy="524.4" r="4" fill="#0531ff"/>
<path d="M102.4 424.2V482.9M98 424.2H106.8M98 482.9H106.8" fill="none" stroke="#3a3a3a" stroke-width="1.15"/>
<circle cx="102.4" cy="453.4" r="4" fill="#0531ff"/>
<path d="M131.6 478V530.7M127.2 478H136M127.2 530.7H136" fill="none" stroke="#3a3a3a" stroke-width="1.15"/>
<circle cx="131.6" cy="504" r="4" fill="#0531ff"/>
<path d="M160.8 471.6V529.9M156.4 471.6H165.2M156.4 529.9H165.2" fill="none" stroke="#3a3a3a" stroke-width="1.15"/>
<circle cx="160.8" cy="501" r="4" fill="#0531ff"/>
<path d="M190 480.2V537.7M185.6 480.2H194.4M185.6 537.7H194.4" fill="none" stroke="#3a3a3a" stroke-width="1.15"/>
<circle cx="190" cy="509.1" r="4" fill="#0531ff"/>
<path d="M219.2 478.3V536.1M214.8 478.3H223.6M214.8 536.1H223.6" fill="none" stroke="#3a3a3a" stroke-width="1.15"/>
<circle cx="219.2" cy="507.2" r="4" fill="#0531ff"/>
<path d="M248.4 425.4V487M244 425.4H252.8M244 487H252.8" fill="none" stroke="#3a3a3a" stroke-width="1.15"/>
<circle cx="248.4" cy="456.4" r="4" fill="#0531ff"/>
<path d="M277.6 477.5V530.7M273.2 477.5H282M273.2 530.7H282" fill="none" stroke="#3a3a3a" stroke-width="1.15"/>
<circle cx="277.6" cy="504" r="4" fill="#0531ff"/>
<text x="175.5" y="409.5" text-anchor="middle" font-size="13.5" font-family="Liberation Sans, sans-serif" font-weight="bold" fill="#111">S3_32105315</text>
<text x="23.9" y="487.2" transform="rotate(-90 23.9 487.2)" text-anchor="middle" font-size="12" font-family="Liberation Sans, sans-serif" font-weight="bold" fill="#111">Effect</text>
<line x1="59.2" y1="720.8" x2="292.5" y2="720.8" stroke="#f04a44" stroke-width="1.25" stroke-dasharray="4.42 4.42" stroke-dashoffset="-0.6"/>
<path d="M59.2 604.8V742.9H294.6" fill="none" stroke="#3a3a3a" stroke-width="1.15"/>
<line x1="56.4" y1="720.8" x2="59.2" y2="720.8" stroke="#3a3a3a" stroke-width="1.1"/>
<text x="54.7" y="725.1" text-anchor="end" font-size="12.2" font-family="Liberation Sans, sans-serif" font-weight="bold" fill="#1a1a1a">0.0</text>
<line x1="56.4" y1="681.3" x2="59.2" y2="681.3" stroke="#3a3a3a" stroke-width="1.1"/>
<text x="54.7" y="685.6" text-anchor="end" font-size="12.2" font-family="Liberation Sans, sans-serif" font-weight="bold" fill="#1a1a1a">0.4</text>
<line x1="56.4" y1="641.6" x2="59.2" y2="641.6" stroke="#3a3a3a" stroke-width="1.1"/>
<text x="54.7" y="645.9" text-anchor="end" font-size="12.2" font-family="Liberation Sans, sans-serif" font-weight="bold" fill="#1a1a1a">0.8</text>
<line x1="74.1" y1="742.9" x2="74.1" y2="745.7" stroke="#3a3a3a" stroke-width="1.1"/>
<line x1="103.5" y1="742.9" x2="103.5" y2="745.7" stroke="#3a3a3a" stroke-width="1.1"/>
<line x1="132.9" y1="742.9" x2="132.9" y2="745.7" stroke="#3a3a3a" stroke-width="1.1"/>
<line x1="162.3" y1="742.9" x2="162.3" y2="745.7" stroke="#3a3a3a" stroke-width="1.1"/>
<line x1="191.7" y1="742.9" x2="191.7" y2="745.7" stroke="#3a3a3a" stroke-width="1.1"/>
<line x1="221.1" y1="742.9" x2="221.1" y2="745.7" stroke="#3a3a3a" stroke-width="1.1"/>
<line x1="250.5" y1="742.9" x2="250.5" y2="745.7" stroke="#3a3a3a" stroke-width="1.1"/>
<line x1="279.9" y1="742.9" x2="279.9" y2="745.7" stroke="#3a3a3a" stroke-width="1.1"/>
<path d="M74.1 690.6V737M69.7 690.6H78.5M69.7 737H78.5" fill="none" stroke="#3a3a3a" stroke-width="1.15"/>
<circle cx="74.1" cy="713.9" r="4" fill="#0531ff"/>
<path d="M103.5 611.4V660.8M99.1 611.4H107.9M99.1 660.8H107.9" fill="none" stroke="#3a3a3a" stroke-width="1.15"/>
<circle cx="103.5" cy="636" r="4" fill="#0531ff"/>
<path d="M132.9 655.9V702.1M128.5 655.9H137.3M128.5 702.1H137.3" fill="none" stroke="#3a3a3a" stroke-width="1.15"/>
<circle cx="132.9" cy="678.9" r="4" fill="#0531ff"/>
<path d="M162.3 665.4V713.2M157.9 665.4H166.7M157.9 713.2H166.7" fill="none" stroke="#3a3a3a" stroke-width="1.15"/>
<circle cx="162.3" cy="689.1" r="4" fill="#0531ff"/>
<path d="M191.7 668.1V713.7M187.3 668.1H196.1M187.3 713.7H196.1" fill="none" stroke="#3a3a3a" stroke-width="1.15"/>
<circle cx="191.7" cy="691" r="4" fill="#0531ff"/>
<path d="M221.1 667.5V714.2M216.7 667.5H225.5M216.7 714.2H225.5" fill="none" stroke="#3a3a3a" stroke-width="1.15"/>
<circle cx="221.1" cy="691" r="4" fill="#0531ff"/>
<path d="M250.5 610.8V662.4M246.1 610.8H254.9M246.1 662.4H254.9" fill="none" stroke="#3a3a3a" stroke-width="1.15"/>
<circle cx="250.5" cy="636.5" r="4" fill="#0531ff"/>
<path d="M279.9 653.5V692.4M275.5 653.5H284.3M275.5 692.4H284.3" fill="none" stroke="#3a3a3a" stroke-width="1.15"/>
<circle cx="279.9" cy="673.2" r="4" fill="#0531ff"/>
<text x="176.7" y="596.4" text-anchor="middle" font-size="13.5" font-family="Liberation Sans, sans-serif" font-weight="bold" fill="#111">S3_38375664</text>
<text x="32.1" y="673.5" transform="rotate(-90 32.1 673.5)" text-anchor="middle" font-size="12" font-family="Liberation Sans, sans-serif" font-weight="bold" fill="#111">Effect</text>
<line x1="59.2" y1="878.3" x2="292.5" y2="878.3" stroke="#f04a44" stroke-width="1.25" stroke-dasharray="4.42 4.42" stroke-dashoffset="-0.6"/>
<path d="M59.2 790.7V920.7H294.6" fill="none" stroke="#3a3a3a" stroke-width="1.15"/>
<line x1="56.4" y1="912.8" x2="59.2" y2="912.8" stroke="#3a3a3a" stroke-width="1.1"/>
<text x="54.7" y="917.1" text-anchor="end" font-size="12.2" font-family="Liberation Sans, sans-serif" font-weight="bold" fill="#1a1a1a">-0.5</text>
<line x1="56.4" y1="878.3" x2="59.2" y2="878.3" stroke="#3a3a3a" stroke-width="1.1"/>
<text x="54.7" y="882.6" text-anchor="end" font-size="12.2" font-family="Liberation Sans, sans-serif" font-weight="bold" fill="#1a1a1a">0.0</text>
<line x1="56.4" y1="843.6" x2="59.2" y2="843.6" stroke="#3a3a3a" stroke-width="1.1"/>
<text x="54.7" y="847.9" text-anchor="end" font-size="12.2" font-family="Liberation Sans, sans-serif" font-weight="bold" fill="#1a1a1a">0.5</text>
<line x1="56.4" y1="809.4" x2="59.2" y2="809.4" stroke="#3a3a3a" stroke-width="1.1"/>
<text x="54.7" y="813.7" text-anchor="end" font-size="12.2" font-family="Liberation Sans, sans-serif" font-weight="bold" fill="#1a1a1a">1.0</text>
<line x1="74.1" y1="920.7" x2="74.1" y2="923.5" stroke="#3a3a3a" stroke-width="1.1"/>
<line x1="103.5" y1="920.7" x2="103.5" y2="923.5" stroke="#3a3a3a" stroke-width="1.1"/>
<line x1="132.9" y1="920.7" x2="132.9" y2="923.5" stroke="#3a3a3a" stroke-width="1.1"/>
<line x1="162.3" y1="920.7" x2="162.3" y2="923.5" stroke="#3a3a3a" stroke-width="1.1"/>
<line x1="191.7" y1="920.7" x2="191.7" y2="923.5" stroke="#3a3a3a" stroke-width="1.1"/>
<line x1="221.1" y1="920.7" x2="221.1" y2="923.5" stroke="#3a3a3a" stroke-width="1.1"/>
<line x1="250.5" y1="920.7" x2="250.5" y2="923.5" stroke="#3a3a3a" stroke-width="1.1"/>
<line x1="279.9" y1="920.7" x2="279.9" y2="923.5" stroke="#3a3a3a" stroke-width="1.1"/>
<path d="M74.1 850.6V887M69.7 850.6H78.5M69.7 887H78.5" fill="none" stroke="#3a3a3a" stroke-width="1.15"/>
<circle cx="74.1" cy="869" r="4" fill="#0531ff"/>
<path d="M103.5 796.3V839.6M99.1 796.3H107.9M99.1 839.6H107.9" fill="none" stroke="#3a3a3a" stroke-width="1.15"/>
<circle cx="103.5" cy="817.8" r="4" fill="#0531ff"/>
<path d="M132.9 840.4V878.7M128.5 840.4H137.3M128.5 878.7H137.3" fill="none" stroke="#3a3a3a" stroke-width="1.15"/>
<circle cx="132.9" cy="859.3" r="4" fill="#0531ff"/>
<path d="M162.3 850.4V893M157.9 850.4H166.7M157.9 893H166.7" fill="none" stroke="#3a3a3a" stroke-width="1.15"/>
<circle cx="162.3" cy="871.7" r="4" fill="#0531ff"/>
<path d="M191.7 870.3V911.1M187.3 870.3H196.1M187.3 911.1H196.1" fill="none" stroke="#3a3a3a" stroke-width="1.15"/>
<circle cx="191.7" cy="890.9" r="4" fill="#0531ff"/>
<path d="M221.1 873.3V915.2M216.7 873.3H225.5M216.7 915.2H225.5" fill="none" stroke="#3a3a3a" stroke-width="1.15"/>
<circle cx="221.1" cy="894.1" r="4" fill="#0531ff"/>
<path d="M250.5 814.2V860.3M246.1 814.2H254.9M246.1 860.3H254.9" fill="none" stroke="#3a3a3a" stroke-width="1.15"/>
<circle cx="250.5" cy="837.4" r="4" fill="#0531ff"/>
<path d="M279.9 837.7V876M275.5 837.7H284.3M275.5 876H284.3" fill="none" stroke="#3a3a3a" stroke-width="1.15"/>
<circle cx="279.9" cy="856.6" r="4" fill="#0531ff"/>
<text x="176.2" y="782.7" text-anchor="middle" font-size="13.5" font-family="Liberation Sans, sans-serif" font-weight="bold" fill="#111">S3_56401131</text>
<text x="27.7" y="855.8" transform="rotate(-90 27.7 855.8)" text-anchor="middle" font-size="12" font-family="Liberation Sans, sans-serif" font-weight="bold" fill="#111">Effect</text>
<text x="78.4" y="926.3" transform="rotate(-90 78.4 926.3)" text-anchor="end" font-size="12" font-family="Liberation Sans, sans-serif" font-weight="bold" fill="#111">Grain Yield</text>
<text x="107.8" y="926.3" transform="rotate(-90 107.8 926.3)" text-anchor="end" font-size="12" font-family="Liberation Sans, sans-serif" font-weight="bold" fill="#111">Root Surface Area</text>
<text x="137.2" y="926.3" transform="rotate(-90 137.2 926.3)" text-anchor="end" font-size="12" font-family="Liberation Sans, sans-serif" font-weight="bold" fill="#111">Root Diameter</text>
<text x="166.6" y="926.3" transform="rotate(-90 166.6 926.3)" text-anchor="end" font-size="12" font-family="Liberation Sans, sans-serif" font-weight="bold" fill="#111">Centroid</text>
<text x="196" y="926.3" transform="rotate(-90 196 926.3)" text-anchor="end" font-size="12" font-family="Liberation Sans, sans-serif" font-weight="bold" fill="#111">Median Roots</text>
<text x="225.4" y="926.3" transform="rotate(-90 225.4 926.3)" text-anchor="end" font-size="12" font-family="Liberation Sans, sans-serif" font-weight="bold" fill="#111">Convex Hull</text>
<text x="254.8" y="926.3" transform="rotate(-90 254.8 926.3)" text-anchor="end" font-size="12" font-family="Liberation Sans, sans-serif" font-weight="bold" fill="#111">Shoot Dry Weight</text>
<text x="284.2" y="926.3" transform="rotate(-90 284.2 926.3)" text-anchor="end" font-size="12" font-family="Liberation Sans, sans-serif" font-weight="bold" fill="#111">Shoot P Content</text>
<line x1="430.8" y1="323.9" x2="662" y2="323.9" stroke="#f04a44" stroke-width="1.25" stroke-dasharray="4.42 4.42" stroke-dashoffset="-0.6"/>
<path d="M430.8 232.9V369.6H664" fill="none" stroke="#3a3a3a" stroke-width="1.15"/>
<line x1="428" y1="323.9" x2="430.8" y2="323.9" stroke="#3a3a3a" stroke-width="1.1"/>
<text x="426.3" y="328.2" text-anchor="end" font-size="12.2" font-family="Liberation Sans, sans-serif" font-weight="bold" fill="#1a1a1a">0.0</text>
<line x1="428" y1="275.3" x2="430.8" y2="275.3" stroke="#3a3a3a" stroke-width="1.1"/>
<text x="426.3" y="279.6" text-anchor="end" font-size="12.2" font-family="Liberation Sans, sans-serif" font-weight="bold" fill="#1a1a1a">0.5</text>
<line x1="445.8" y1="369.6" x2="445.8" y2="372.4" stroke="#3a3a3a" stroke-width="1.1"/>
<line x1="475.2" y1="369.6" x2="475.2" y2="372.4" stroke="#3a3a3a" stroke-width="1.1"/>
<line x1="504.5" y1="369.6" x2="504.5" y2="372.4" stroke="#3a3a3a" stroke-width="1.1"/>
<line x1="533.9" y1="369.6" x2="533.9" y2="372.4" stroke="#3a3a3a" stroke-width="1.1"/>
<line x1="563.3" y1="369.6" x2="563.3" y2="372.4" stroke="#3a3a3a" stroke-width="1.1"/>
<line x1="592.6" y1="369.6" x2="592.6" y2="372.4" stroke="#3a3a3a" stroke-width="1.1"/>
<line x1="622" y1="369.6" x2="622" y2="372.4" stroke="#3a3a3a" stroke-width="1.1"/>
<line x1="651.4" y1="369.6" x2="651.4" y2="372.4" stroke="#3a3a3a" stroke-width="1.1"/>
<path d="M445.8 304.9V345.5M441.4 304.9H450.2M441.4 345.5H450.2" fill="none" stroke="#3a3a3a" stroke-width="1.15"/>
<circle cx="445.8" cy="324.9" r="4" fill="#0531ff"/>
<path d="M475.2 239.4V283.5M470.8 239.4H479.6M470.8 283.5H479.6" fill="none" stroke="#3a3a3a" stroke-width="1.15"/>
<circle cx="475.2" cy="261.4" r="4" fill="#0531ff"/>
<path d="M504.5 309.1V350.1M500.1 309.1H508.9M500.1 350.1H508.9" fill="none" stroke="#3a3a3a" stroke-width="1.15"/>
<circle cx="504.5" cy="329.8" r="4" fill="#0531ff"/>
<path d="M533.9 291.9V338.2M529.5 291.9H538.3M529.5 338.2H538.3" fill="none" stroke="#3a3a3a" stroke-width="1.15"/>
<circle cx="533.9" cy="315.4" r="4" fill="#0531ff"/>
<path d="M563.3 314.3V359.9M558.9 314.3H567.7M558.9 359.9H567.7" fill="none" stroke="#3a3a3a" stroke-width="1.15"/>
<circle cx="563.3" cy="337.1" r="4" fill="#0531ff"/>
<path d="M592.6 318.2V363.8M588.2 318.2H597M588.2 363.8H597" fill="none" stroke="#3a3a3a" stroke-width="1.15"/>
<circle cx="592.6" cy="341" r="4" fill="#0531ff"/>
<path d="M622 265.6V313.6M617.6 265.6H626.4M617.6 313.6H626.4" fill="none" stroke="#3a3a3a" stroke-width="1.15"/>
<circle cx="622" cy="289.8" r="4" fill="#0531ff"/>
<path d="M651.4 280.4V324.2M647 280.4H655.8M647 324.2H655.8" fill="none" stroke="#3a3a3a" stroke-width="1.15"/>
<circle cx="651.4" cy="302.4" r="4" fill="#0531ff"/>
<text x="548.6" y="224.5" text-anchor="middle" font-size="13.5" font-family="Liberation Sans, sans-serif" font-weight="bold" fill="#111">S5_35992354</text>
<text x="404.3" y="301.6" transform="rotate(-90 404.3 301.6)" text-anchor="middle" font-size="12" font-family="Liberation Sans, sans-serif" font-weight="bold" fill="#111">Effect</text>
<line x1="428.7" y1="507" x2="662" y2="507" stroke="#f04a44" stroke-width="1.25" stroke-dasharray="4.42 4.42" stroke-dashoffset="-0.6"/>
<path d="M428.7 417.2V553.2H664" fill="none" stroke="#3a3a3a" stroke-width="1.15"/>
<line x1="425.9" y1="507" x2="428.7" y2="507" stroke="#3a3a3a" stroke-width="1.1"/>
<text x="424.2" y="511.3" text-anchor="end" font-size="12.2" font-family="Liberation Sans, sans-serif" font-weight="bold" fill="#1a1a1a">0.0</text>
<line x1="425.9" y1="458.9" x2="428.7" y2="458.9" stroke="#3a3a3a" stroke-width="1.1"/>
<text x="424.2" y="463.2" text-anchor="end" font-size="12.2" font-family="Liberation Sans, sans-serif" font-weight="bold" fill="#1a1a1a">0.5</text>
<line x1="443.7" y1="553.2" x2="443.7" y2="556" stroke="#3a3a3a" stroke-width="1.1"/>
<line x1="473.1" y1="553.2" x2="473.1" y2="556" stroke="#3a3a3a" stroke-width="1.1"/>
<line x1="502.4" y1="553.2" x2="502.4" y2="556" stroke="#3a3a3a" stroke-width="1.1"/>
<line x1="531.8" y1="553.2" x2="531.8" y2="556" stroke="#3a3a3a" stroke-width="1.1"/>
<line x1="561.2" y1="553.2" x2="561.2" y2="556" stroke="#3a3a3a" stroke-width="1.1"/>
<line x1="590.5" y1="553.2" x2="590.5" y2="556" stroke="#3a3a3a" stroke-width="1.1"/>
<line x1="619.9" y1="553.2" x2="619.9" y2="556" stroke="#3a3a3a" stroke-width="1.1"/>
<line x1="649.3" y1="553.2" x2="649.3" y2="556" stroke="#3a3a3a" stroke-width="1.1"/>
<path d="M443.7 487.8V528.4M439.3 487.8H448.1M439.3 528.4H448.1" fill="none" stroke="#3a3a3a" stroke-width="1.15"/>
<circle cx="443.7" cy="508.5" r="4" fill="#0531ff"/>
<path d="M473.1 422.6V467.1M468.7 422.6H477.5M468.7 467.1H477.5" fill="none" stroke="#3a3a3a" stroke-width="1.15"/>
<circle cx="473.1" cy="445" r="4" fill="#0531ff"/>
<path d="M502.4 492.3V533M498 492.3H506.8M498 533H506.8" fill="none" stroke="#3a3a3a" stroke-width="1.15"/>
<circle cx="502.4" cy="512.7" r="4" fill="#0531ff"/>
<path d="M531.8 475.2V521.4M527.4 475.2H536.2M527.4 521.4H536.2" fill="none" stroke="#3a3a3a" stroke-width="1.15"/>
<circle cx="531.8" cy="498.3" r="4" fill="#0531ff"/>
<path d="M561.2 497.2V542.8M556.8 497.2H565.6M556.8 542.8H565.6" fill="none" stroke="#3a3a3a" stroke-width="1.15"/>
<circle cx="561.2" cy="520.4" r="4" fill="#0531ff"/>
<path d="M590.5 501.1V546.7M586.1 501.1H594.9M586.1 546.7H594.9" fill="none" stroke="#3a3a3a" stroke-width="1.15"/>
<circle cx="590.5" cy="523.9" r="4" fill="#0531ff"/>
<path d="M619.9 448.9V496.9M615.5 448.9H624.3M615.5 496.9H624.3" fill="none" stroke="#3a3a3a" stroke-width="1.15"/>
<circle cx="619.9" cy="473.1" r="4" fill="#0531ff"/>
<path d="M649.3 464V507.1M644.9 464H653.7M644.9 507.1H653.7" fill="none" stroke="#3a3a3a" stroke-width="1.15"/>
<circle cx="649.3" cy="485.7" r="4" fill="#0531ff"/>
<text x="546.3" y="409.5" text-anchor="middle" font-size="13.5" font-family="Liberation Sans, sans-serif" font-weight="bold" fill="#111">S5_35992361</text>
<text x="402.2" y="485" transform="rotate(-90 402.2 485)" text-anchor="middle" font-size="12" font-family="Liberation Sans, sans-serif" font-weight="bold" fill="#111">Effect</text>
<line x1="430.8" y1="714.6" x2="657.5" y2="714.6" stroke="#f04a44" stroke-width="1.25" stroke-dasharray="4.42 4.42" stroke-dashoffset="-0.6"/>
<path d="M430.8 600.4V743.2H659.5" fill="none" stroke="#3a3a3a" stroke-width="1.15"/>
<line x1="428" y1="714.6" x2="430.8" y2="714.6" stroke="#3a3a3a" stroke-width="1.1"/>
<text x="426.3" y="718.9" text-anchor="end" font-size="12.2" font-family="Liberation Sans, sans-serif" font-weight="bold" fill="#1a1a1a">0.00</text>
<line x1="428" y1="685.4" x2="430.8" y2="685.4" stroke="#3a3a3a" stroke-width="1.1"/>
<text x="426.3" y="689.7" text-anchor="end" font-size="12.2" font-family="Liberation Sans, sans-serif" font-weight="bold" fill="#1a1a1a">0.25</text>
<line x1="428" y1="656.1" x2="430.8" y2="656.1" stroke="#3a3a3a" stroke-width="1.1"/>
<text x="426.3" y="660.4" text-anchor="end" font-size="12.2" font-family="Liberation Sans, sans-serif" font-weight="bold" fill="#1a1a1a">0.50</text>
<line x1="428" y1="627" x2="430.8" y2="627" stroke="#3a3a3a" stroke-width="1.1"/>
<text x="426.3" y="631.3" text-anchor="end" font-size="12.2" font-family="Liberation Sans, sans-serif" font-weight="bold" fill="#1a1a1a">0.75</text>
<line x1="445.4" y1="743.2" x2="445.4" y2="746" stroke="#3a3a3a" stroke-width="1.1"/>
<line x1="474" y1="743.2" x2="474" y2="746" stroke="#3a3a3a" stroke-width="1.1"/>
<line x1="502.6" y1="743.2" x2="502.6" y2="746" stroke="#3a3a3a" stroke-width="1.1"/>
<line x1="531.2" y1="743.2" x2="531.2" y2="746" stroke="#3a3a3a" stroke-width="1.1"/>
<line x1="559.8" y1="743.2" x2="559.8" y2="746" stroke="#3a3a3a" stroke-width="1.1"/>
<line x1="588.4" y1="743.2" x2="588.4" y2="746" stroke="#3a3a3a" stroke-width="1.1"/>
<line x1="617" y1="743.2" x2="617" y2="746" stroke="#3a3a3a" stroke-width="1.1"/>
<line x1="645.6" y1="743.2" x2="645.6" y2="746" stroke="#3a3a3a" stroke-width="1.1"/>
<path d="M445.4 689.3V736.6M441 689.3H449.8M441 736.6H449.8" fill="none" stroke="#3a3a3a" stroke-width="1.15"/>
<circle cx="445.4" cy="713.1" r="4" fill="#0531ff"/>
<path d="M474 606.6V659.5M469.6 606.6H478.4M469.6 659.5H478.4" fill="none" stroke="#3a3a3a" stroke-width="1.15"/>
<circle cx="474" cy="632.8" r="4" fill="#0531ff"/>
<path d="M502.6 669.6V717.3M498.2 669.6H507M498.2 717.3H507" fill="none" stroke="#3a3a3a" stroke-width="1.15"/>
<circle cx="502.6" cy="693.8" r="4" fill="#0531ff"/>
<path d="M531.2 679.4V730.2M526.8 679.4H535.6M526.8 730.2H535.6" fill="none" stroke="#3a3a3a" stroke-width="1.15"/>
<circle cx="531.2" cy="705" r="4" fill="#0531ff"/>
<path d="M559.8 684V733.8M555.4 684H564.2M555.4 733.8H564.2" fill="none" stroke="#3a3a3a" stroke-width="1.15"/>
<circle cx="559.8" cy="708.9" r="4" fill="#0531ff"/>
<path d="M588.4 685.4V735.9M584 685.4H592.8M584 735.9H592.8" fill="none" stroke="#3a3a3a" stroke-width="1.15"/>
<circle cx="588.4" cy="710.3" r="4" fill="#0531ff"/>
<path d="M617 622.7V678.7M612.6 622.7H621.4M612.6 678.7H621.4" fill="none" stroke="#3a3a3a" stroke-width="1.15"/>
<circle cx="617" cy="650.7" r="4" fill="#0531ff"/>
<path d="M645.6 649.3V697.7M641.2 649.3H650M641.2 697.7H650" fill="none" stroke="#3a3a3a" stroke-width="1.15"/>
<circle cx="645.6" cy="673.5" r="4" fill="#0531ff"/>
<text x="545.6" y="592.2" text-anchor="middle" font-size="13.5" font-family="Liberation Sans, sans-serif" font-weight="bold" fill="#111">S5_38190612</text>
<text x="397.6" y="671.8" transform="rotate(-90 397.6 671.8)" text-anchor="middle" font-size="12" font-family="Liberation Sans, sans-serif" font-weight="bold" fill="#111">Effect</text>
<line x1="430" y1="900.2" x2="656.5" y2="900.2" stroke="#f04a44" stroke-width="1.25" stroke-dasharray="4.42 4.42" stroke-dashoffset="-0.6"/>
<path d="M430 790.9V920.4H658.5" fill="none" stroke="#3a3a3a" stroke-width="1.15"/>
<line x1="427.2" y1="900.2" x2="430" y2="900.2" stroke="#3a3a3a" stroke-width="1.1"/>
<text x="425.5" y="904.5" text-anchor="end" font-size="12.2" font-family="Liberation Sans, sans-serif" font-weight="bold" fill="#1a1a1a">0.00</text>
<line x1="427.2" y1="875.4" x2="430" y2="875.4" stroke="#3a3a3a" stroke-width="1.1"/>
<text x="425.5" y="879.7" text-anchor="end" font-size="12.2" font-family="Liberation Sans, sans-serif" font-weight="bold" fill="#1a1a1a">0.25</text>
<line x1="427.2" y1="850.5" x2="430" y2="850.5" stroke="#3a3a3a" stroke-width="1.1"/>
<text x="425.5" y="854.8" text-anchor="end" font-size="12.2" font-family="Liberation Sans, sans-serif" font-weight="bold" fill="#1a1a1a">0.50</text>
<line x1="427.2" y1="825.4" x2="430" y2="825.4" stroke="#3a3a3a" stroke-width="1.1"/>
<text x="425.5" y="829.7" text-anchor="end" font-size="12.2" font-family="Liberation Sans, sans-serif" font-weight="bold" fill="#1a1a1a">0.75</text>
<line x1="427.2" y1="800.9" x2="430" y2="800.9" stroke="#3a3a3a" stroke-width="1.1"/>
<text x="425.5" y="805.2" text-anchor="end" font-size="12.2" font-family="Liberation Sans, sans-serif" font-weight="bold" fill="#1a1a1a">1.00</text>
<line x1="444" y1="920.4" x2="444" y2="923.2" stroke="#3a3a3a" stroke-width="1.1"/>
<line x1="472.6" y1="920.4" x2="472.6" y2="923.2" stroke="#3a3a3a" stroke-width="1.1"/>
<line x1="501.2" y1="920.4" x2="501.2" y2="923.2" stroke="#3a3a3a" stroke-width="1.1"/>
<line x1="529.8" y1="920.4" x2="529.8" y2="923.2" stroke="#3a3a3a" stroke-width="1.1"/>
<line x1="558.4" y1="920.4" x2="558.4" y2="923.2" stroke="#3a3a3a" stroke-width="1.1"/>
<line x1="587" y1="920.4" x2="587" y2="923.2" stroke="#3a3a3a" stroke-width="1.1"/>
<line x1="615.6" y1="920.4" x2="615.6" y2="923.2" stroke="#3a3a3a" stroke-width="1.1"/>
<line x1="644.2" y1="920.4" x2="644.2" y2="923.2" stroke="#3a3a3a" stroke-width="1.1"/>
<path d="M444 857.5V899.9M439.6 857.5H448.4M439.6 899.9H448.4" fill="none" stroke="#3a3a3a" stroke-width="1.15"/>
<circle cx="444" cy="878.9" r="4" fill="#0531ff"/>
<path d="M472.6 796.2V844.6M468.2 796.2H477M468.2 844.6H477" fill="none" stroke="#3a3a3a" stroke-width="1.15"/>
<circle cx="472.6" cy="820.4" r="4" fill="#0531ff"/>
<path d="M501.2 849.1V892.9M496.8 849.1H505.6M496.8 892.9H505.6" fill="none" stroke="#3a3a3a" stroke-width="1.15"/>
<circle cx="501.2" cy="871.2" r="4" fill="#0531ff"/>
<path d="M529.8 867.3V914.6M525.4 867.3H534.2M525.4 914.6H534.2" fill="none" stroke="#3a3a3a" stroke-width="1.15"/>
<circle cx="529.8" cy="891.2" r="4" fill="#0531ff"/>
<path d="M558.4 868V913.9M554 868H562.8M554 913.9H562.8" fill="none" stroke="#3a3a3a" stroke-width="1.15"/>
<circle cx="558.4" cy="890.8" r="4" fill="#0531ff"/>
<path d="M587 857.2V904.1M582.6 857.2H591.4M582.6 904.1H591.4" fill="none" stroke="#3a3a3a" stroke-width="1.15"/>
<circle cx="587" cy="880.7" r="4" fill="#0531ff"/>
<path d="M615.6 812V863.1M611.2 812H620M611.2 863.1H620" fill="none" stroke="#3a3a3a" stroke-width="1.15"/>
<circle cx="615.6" cy="837.9" r="4" fill="#0531ff"/>
<path d="M644.2 855.8V899.6M639.8 855.8H648.6M639.8 899.6H648.6" fill="none" stroke="#3a3a3a" stroke-width="1.15"/>
<circle cx="644.2" cy="877.9" r="4" fill="#0531ff"/>
<text x="544.7" y="782.7" text-anchor="middle" font-size="13.5" font-family="Liberation Sans, sans-serif" font-weight="bold" fill="#111">S5_45530884</text>
<text x="396.4" y="856.1" transform="rotate(-90 396.4 856.1)" text-anchor="middle" font-size="12" font-family="Liberation Sans, sans-serif" font-weight="bold" fill="#111">Effect</text>
<text x="448.3" y="926" transform="rotate(-90 448.3 926)" text-anchor="end" font-size="12" font-family="Liberation Sans, sans-serif" font-weight="bold" fill="#111">Grain Yield</text>
<text x="476.9" y="926" transform="rotate(-90 476.9 926)" text-anchor="end" font-size="12" font-family="Liberation Sans, sans-serif" font-weight="bold" fill="#111">Root Surface Area</text>
<text x="505.5" y="926" transform="rotate(-90 505.5 926)" text-anchor="end" font-size="12" font-family="Liberation Sans, sans-serif" font-weight="bold" fill="#111">Root Diameter</text>
<text x="534.1" y="926" transform="rotate(-90 534.1 926)" text-anchor="end" font-size="12" font-family="Liberation Sans, sans-serif" font-weight="bold" fill="#111">Centroid</text>
<text x="562.7" y="926" transform="rotate(-90 562.7 926)" text-anchor="end" font-size="12" font-family="Liberation Sans, sans-serif" font-weight="bold" fill="#111">Median Roots</text>
<text x="591.3" y="926" transform="rotate(-90 591.3 926)" text-anchor="end" font-size="12" font-family="Liberation Sans, sans-serif" font-weight="bold" fill="#111">Convex Hull</text>
<text x="619.9" y="926" transform="rotate(-90 619.9 926)" text-anchor="end" font-size="12" font-family="Liberation Sans, sans-serif" font-weight="bold" fill="#111">Shoot Dry Weight</text>
<text x="648.5" y="926" transform="rotate(-90 648.5 926)" text-anchor="end" font-size="12" font-family="Liberation Sans, sans-serif" font-weight="bold" fill="#111">Shoot P Content</text>
</svg>
</body></html>
